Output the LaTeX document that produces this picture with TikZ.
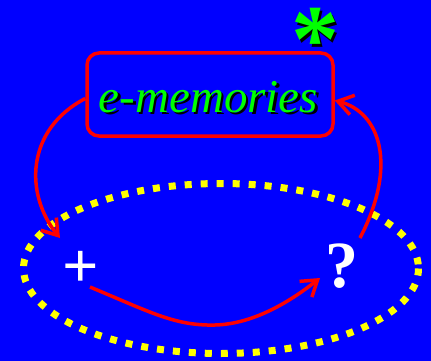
\documentclass[tikz,border=0pt]{standalone}
\usepackage{fontspec}
\setmainfont{Liberation Serif}
\usepackage{xcolor}
\usepackage{tikz}
\usetikzlibrary{arrows.meta, positioning}
\definecolor{bgblue}{RGB}{0, 0, 255}
\definecolor{memgreen}{RGB}{0, 255, 0}
\definecolor{ringyellow}{RGB}{255, 255, 0}
\definecolor{linkred}{RGB}{255, 0, 0}

\begin{document}
\begin{tikzpicture}[x=1pt, y=-1pt,
  membox/.style={draw=linkred, line width=3.5pt, rounded corners=12pt,
    minimum width=246pt, minimum height=83pt, inner sep=0pt},
  memtext/.style={font=\itshape\fontsize{47}{47}\selectfont, anchor=base, inner sep=0pt},
  startext/.style={font=\bfseries\fontsize{96}{96}\selectfont, anchor=base, inner sep=0pt,
    text height=0.7em, text depth=0pt},
  glyph/.style={text=white, anchor=base, inner sep=0pt},
  link/.style={draw=linkred, line width=3.5pt,
    -{Straight Barb[length=15pt, width=20pt, line width=3.5pt]}},
  dotring/.style={draw=ringyellow, line width=7pt, dash pattern=on 7pt off 9pt},
]
  % Background and page size
  \fill[bgblue] (0,0) rectangle (431,361);
  \useasboundingbox (0,0) rectangle (431,361);

  % Dotted ring
  \draw[dotring] (221,268.5) ellipse [x radius=197.5, y radius=85];

  % Box with shadowed title
  \node[membox] (mem) at (210,94.5) {};
  \node[memtext, text=black] (memshadow) at (211,114.5) {e-memories};
  \node[memtext, text=memgreen] (memtitle) at (208.5,112) {e-memories};

  % Asterisk
  \node[startext, text=black] (starshadow) at (317.5,74.5) {*};
  \node[startext, text=memgreen] (star) at (315,72) {*};

  % Plus and question mark
  \node[glyph, font=\bfseries\fontsize{64}{64}\selectfont] (plus) at (80.5,287) {+};
  \node[glyph, font=\bfseries\fontsize{66}{66}\selectfont] (qmark) at (341.5,287) {?};

  % Free ends of the links
  \coordinate (downtip) at (60,238);
  \coordinate (uptail) at (360,238);
  \coordinate (plustail) at (90,287);
  \coordinate (qtip) at (320,278);

  % Links
  \draw[link] ([yshift=-4pt]mem.west) .. controls (25,130) and (25,195) .. (downtip);
  \draw[link] (uptail) .. controls (398,165) and (380,112) .. ([yshift=-6pt]mem.east);
  \draw[link] (plustail) .. controls (150,312) and (175,326) .. (215,325)
    .. controls (255,324) and (292,300) .. (qtip);

\end{tikzpicture}
\end{document}
